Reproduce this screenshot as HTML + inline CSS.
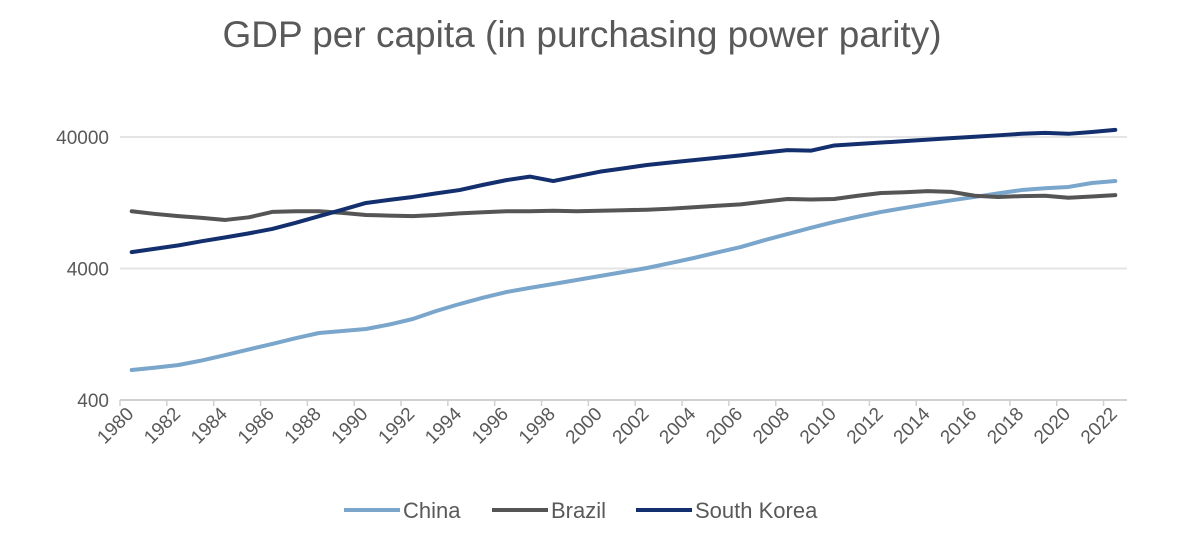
<!DOCTYPE html>
<html><head><meta charset="utf-8"><style>
body{margin:0;background:#fff;}
svg{display:block;font-family:"Liberation Sans",Arial,sans-serif;}
</style></head><body>
<svg id="chart" width="1184" height="556">
<text x="582" y="47" text-anchor="middle" font-size="37" fill="#595959">GDP per capita (in purchasing power parity)</text>
<g id="grid"></g><g id="xaxis"></g><g id="lines"></g>
<g>
<g><line x1="344" y1="510" x2="400" y2="510" stroke="#7aa6cc" stroke-width="4"/><text x="403" y="518" font-size="22" fill="#595959">China</text></g>
<g><line x1="492" y1="510" x2="548" y2="510" stroke="#555555" stroke-width="4"/><text x="551" y="518" font-size="22" fill="#595959">Brazil</text></g>
<g><line x1="636" y1="510" x2="692" y2="510" stroke="#142f6e" stroke-width="4"/><text x="695" y="518" font-size="22" fill="#595959">South Korea</text></g>
</g>
</svg>
<script>
const years=[];for(let y=1980;y<=2022;y++)years.push(y);
const china=[676,705,738,800,879,970,1067,1180,1293,1340,1387,1500,1652,1900,2148,2400,2650,2850,3048,3270,3507,3760,4036,4400,4808,5300,5822,6550,7310,8150,9035,9900,10770,11550,12370,13200,14000,14900,15800,16300,16680,17880,18500];
const brazil=[10900,10400,10000,9700,9360,9800,10770,10900,10900,10600,10200,10100,10000,10200,10500,10700,10900,10900,11000,10900,11000,11100,11200,11400,11700,12000,12300,12900,13500,13400,13500,14300,15000,15200,15500,15300,14300,14000,14200,14300,13800,14100,14450];
const korea=[5330,5650,6000,6450,6900,7400,8000,8900,10000,11200,12600,13300,14000,14900,15800,17300,18800,20000,18500,20100,21800,23100,24500,25600,26700,27800,29000,30400,31800,31500,34500,35400,36300,37200,38200,39200,40200,41200,42300,43000,42300,43700,45300];
const yTicks=[400,4000,40000];
const X0=120,X1=1127,Y400=400,PPD=131.5;
const bw=(X1-X0)/years.length;
const xs=i=>X0+bw*(i+0.5);
const ys=v=>Y400-PPD*Math.log10(v/400);
const NS="http://www.w3.org/2000/svg";
function mk(t,a,p){const e=document.createElementNS(NS,t);for(const k in a)e.setAttribute(k,a[k]);p.appendChild(e);return e;}
const grid=document.getElementById('grid');
yTicks.forEach(t=>{
 const l=mk('line',{x1:X0,x2:X1,y1:ys(t),y2:ys(t),stroke:t===400?'#d0d0d0':'#e4e4e4','stroke-width':2},grid);
 
 
 const tx=mk('text',{x:109,y:ys(t)+7,'text-anchor':'end','font-size':19,fill:'#595959'},grid);
 tx.textContent=t;
 
 
});
const xa=document.getElementById('xaxis');
years.forEach((yr,i)=>{
 if(i%2===0){
  const tk=mk('line',{x1:X0+bw*i,x2:X0+bw*i,y1:400,y2:406,stroke:'#d0d0d0','stroke-width':1.5},xa);
  
  
  const cx=xs(i)+3,cy=415;
  const t=mk('text',{x:cx,y:cy,'text-anchor':'end','font-size':19,fill:'#595959',transform:`rotate(-45 ${cx} ${cy})`},xa);
  t.textContent=yr;
  
  
 }
});
const lg=document.getElementById('lines');
[[china,'#7aa6cc','china'],[brazil,'#555555','brazil'],[korea,'#142f6e','south-korea']].forEach(([d,c,n])=>{
 const p=mk('polyline',{points:d.map((v,i)=>xs(i)+','+ys(v)).join(' '),fill:'none',stroke:c,'stroke-width':4,'stroke-linejoin':'round','stroke-linecap':'round'},lg);
 
 
});
</script>
</body></html>
